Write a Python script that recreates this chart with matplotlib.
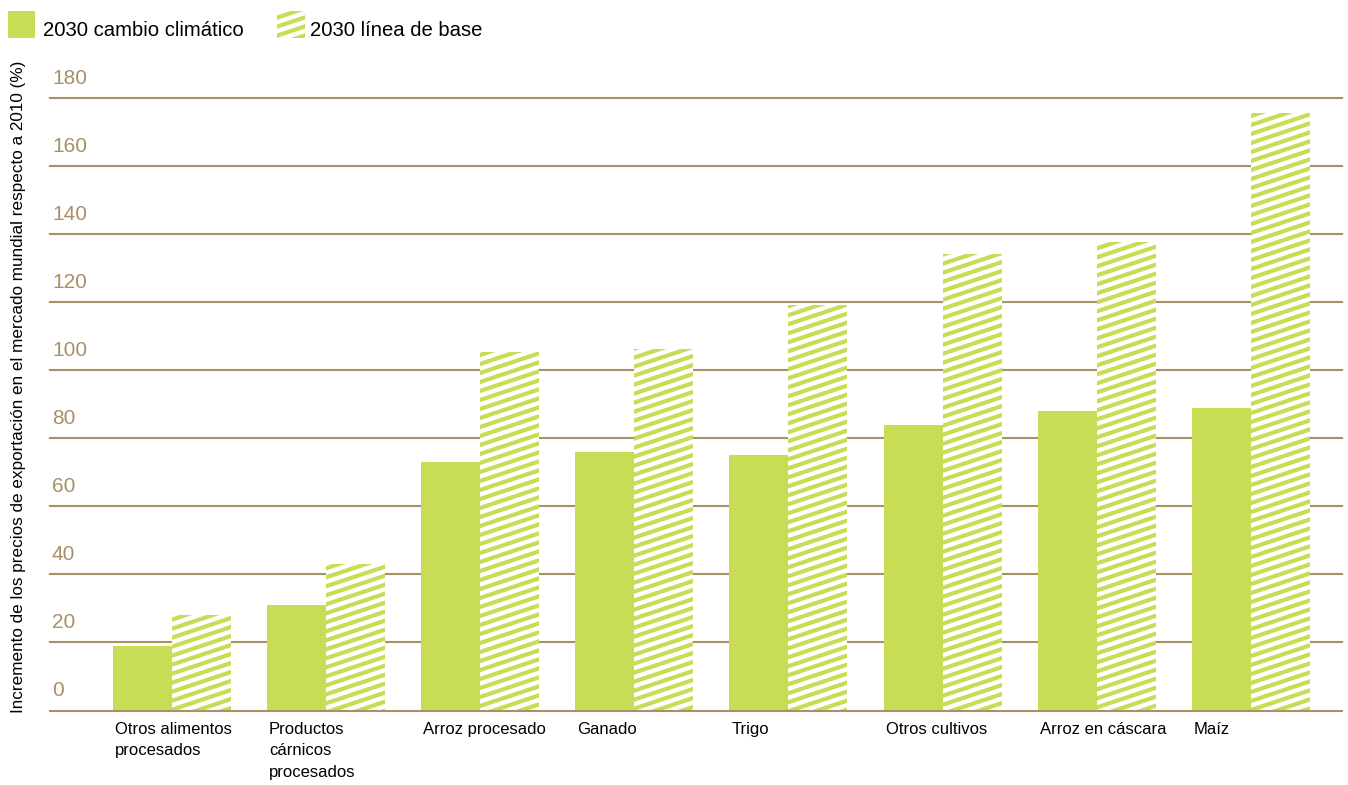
import matplotlib
matplotlib.use("Agg")
import matplotlib.pyplot as plt
import numpy as np
from matplotlib import font_manager
from matplotlib.collections import LineCollection
from matplotlib.patches import Rectangle
from matplotlib.transforms import IdentityTransform, blended_transform_factory, ScaledTranslation

# ---------------- data ----------------
categories = ["Otros alimentos\nprocesados", "Productos\ncárnicos\nprocesados",
              "Arroz procesado", "Ganado", "Trigo", "Otros cultivos",
              "Arroz en cáscara", "Maíz"]
cambio_climatico = [19, 31, 73, 76, 75, 84, 88, 89]
linea_base = [28, 43, 105.3, 106.2, 119, 134, 137.6, 175.5]
series_labels = ["2030 cambio climático", "2030 línea de base"]
y_ticks = [0, 20, 40, 60, 80, 100, 120, 140, 160, 180]
y_label = "Incremento de los precios de exportación en el mercado mundial respecto a 2010 (%)"

# ---------------- style ----------------
GREEN = "#c8dc55"
TAN = "#a89066"
GRID = "#a89264"
W_PX, H_PX, DPI = 1348, 785, 100


def has_font(name):
    try:
        font_manager.findfont(font_manager.FontProperties(family=name), fallback_to_default=False)
        return True
    except Exception:
        return False


NARROW_OK = has_font("Liberation Sans Narrow")
NARROW = "Liberation Sans Narrow" if NARROW_OK else "Liberation Sans"
XL_SIZE = 14 if NARROW_OK else 12
YL_SIZE = 14 if NARROW_OK else 12.3
TICK_SIZE = 17 if NARROW_OK else 15
plt.rcParams["font.family"] = ["Liberation Sans", "DejaVu Sans"]

fig = plt.figure(figsize=(W_PX / DPI, H_PX / DPI), dpi=DPI)
left_px, right_px, bot_px, top_px = 50, 1342, 710.5, 97.7
ax = fig.add_axes([left_px / W_PX, (H_PX - bot_px) / H_PX,
                   (right_px - left_px) / W_PX, (bot_px - top_px) / H_PX])

n = len(categories)
x = np.arange(n)
group_px = 154.1
w = 59 / group_px
ax.set_xlim(-(172 - left_px) / group_px, (right_px - 172) / group_px)
ax.set_ylim(0, 180)

solid = ax.bar(x - w / 2, cambio_climatico, width=w, color=GREEN, edgecolor="none", zorder=3)
hatched = ax.bar(x + w / 2, linea_base, width=w, color="white", edgecolor="none", zorder=3)

# grid lines
for v in y_ticks:
    ax.axhline(v, color=GRID, lw=1.5, zorder=5 if v == 0 else 1, clip_on=False)

# y tick labels (above the gridlines, left aligned)
ax.set_yticks([])
trans = blended_transform_factory(ax.transAxes, ax.transData) + \
    ScaledTranslation(2 / DPI, 14 / DPI, fig.dpi_scale_trans)
for v in y_ticks:
    ax.text(0, v, str(v), transform=trans, ha="left", va="baseline",
            fontsize=TICK_SIZE, color=TAN, family=NARROW)

# x tick labels
ax.set_xticks(x - w)
ax.set_xticklabels(categories, ha="left", va="top", fontsize=XL_SIZE, family=NARROW,
                   linespacing=1.55)
ax.tick_params(axis="x", length=0, pad=8)
shift = ScaledTranslation(2 / DPI, 0, fig.dpi_scale_trans)
for lab in ax.get_xticklabels():
    lab.set_transform(lab.get_transform() + shift)
for s in ax.spines.values():
    s.set_visible(False)

fig.text(19 / W_PX, (H_PX - 387) / H_PX, y_label, rotation=90, ha="center", va="center",
         fontsize=YL_SIZE, family=NARROW)

# stripes for baseline bars
SLOPE = 1 / 3
SPACING = 9.0
STRIPE_LW = 3.0


def stripe_segments(x0, y0, x1, y1, slope, spacing):
    kmin = int(np.floor((y0 - slope * x1) / spacing)) - 1
    kmax = int(np.ceil((y1 - slope * x0) / spacing)) + 1
    segs = []
    for k in range(kmin, kmax + 1):
        c = k * spacing
        segs.append([(x0 - 5, c + slope * (x0 - 5)), (x1 + 5, c + slope * (x1 + 5))])
    return segs


fig.canvas.draw()
for p in hatched:
    bb = p.get_window_extent()
    segs = stripe_segments(bb.x0, bb.y0, bb.x1, bb.y1, SLOPE, SPACING)
    lc = LineCollection(segs, colors=GREEN, linewidths=STRIPE_LW,
                        transform=IdentityTransform(), zorder=4)
    ax.add_collection(lc, autolim=False)
    lc.set_clip_path(p.get_path(), p.get_transform())

# ---------------- legend (drawn in figure pixel coordinates) ----------------
LEG_FS = 14.6
pix = IdentityTransform()
leg_sq = [(8, 27), (277, 28)]      # left x, width of each key square
leg_txt_x = [43, 310]
sq_top, sq_bot, baseline = 11, 38, 36.5
for i, label in enumerate(series_labels):
    lx, lw_ = leg_sq[i]
    if i == 0:
        r = Rectangle((lx, H_PX - sq_bot), lw_, sq_bot - sq_top, facecolor=GREEN,
                      edgecolor="none", transform=pix)
        fig.add_artist(r)
    else:
        r = Rectangle((lx, H_PX - sq_bot), lw_, sq_bot - sq_top, facecolor="white",
                      edgecolor="none", transform=pix)
        fig.add_artist(r)
        segs = stripe_segments(lx, H_PX - sq_bot, lx + lw_, H_PX - sq_top, SLOPE, SPACING)
        lc = LineCollection(segs, colors=GREEN, linewidths=STRIPE_LW, transform=pix)
        fig.add_artist(lc)
        lc.set_clip_path(r.get_path(), r.get_transform())
    fig.text(leg_txt_x[i] / W_PX, (H_PX - baseline) / H_PX, label, ha="left",
             va="baseline", fontsize=LEG_FS, color="black")

fig.savefig("out.png", dpi=DPI)
